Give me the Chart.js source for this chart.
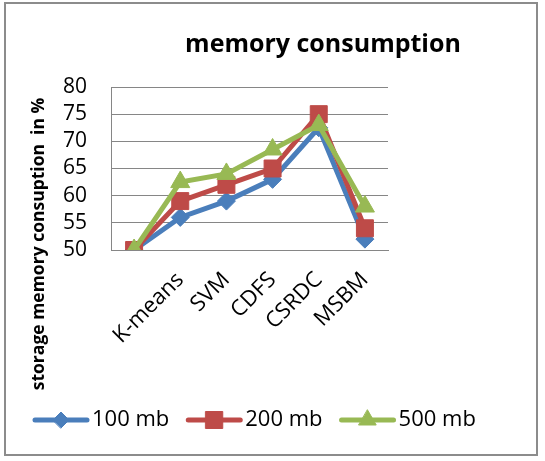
<!DOCTYPE html>
<html>
<head>
<meta charset="utf-8">
<script src="https://cdn.jsdelivr.net/npm/chart.js@4/dist/chart.umd.min.js"></script>
<style>
  html, body { margin: 0; padding: 0; background: #fff; }
  #wrap { position: relative; width: 545px; height: 461px; }
  #frame { position: absolute; left: 4px; top: 2px; width: 534px; height: 454px; border: 2px solid #8c8c8c; box-sizing: border-box; pointer-events: none; }
  canvas { position: absolute; left: 0; top: 0; }
</style>
</head>
<body>
<div id="wrap">
  <canvas id="chart" width="545" height="461"></canvas>
  <div id="frame"></div>
</div>
<script>
// data
const categories = ['', 'K-means', 'SVM', 'CDFS', 'CSRDC', 'MSBM'];
const mb100 = [50, 56, 59, 63, 72.5, 52];
const mb200 = [50, 59, 62, 65, 75, 54];
const mb500 = [50, 62.5, 64, 68.5, 73, 58];
const seriesNames = ['100 mb', '200 mb', '500 mb'];
const yTicks = [50, 55, 60, 65, 70, 75, 80];

const chartTitle = 'memory consumption';
const yTitle = 'storage memory consuption  in %';
const FONT = "'Open Sans', 'Liberation Sans', sans-serif";

const colors = ['#4a7ebb', '#be4b48', '#98b954'];
const markers = [
    { style: 'rectRot', radius: 9, legend: 8 },
    { style: 'rect', radius: 12, legend: 12 },
    { style: 'triangle', radius: 11, legend: 10 }
];

// title, y title and legend are drawn by hand (Excel-style placement)
const decorations = {
    id: 'decorations',
    afterDraw(chart) {
        const ctx = chart.ctx;
        ctx.save();
        ctx.fillStyle = '#000';

        ctx.font = 'bold 25px ' + FONT;
        ctx.textAlign = 'center';
        ctx.textBaseline = 'alphabetic';
        ctx.fillText(chartTitle, 323, 52);

        ctx.font = 'bold 17.5px ' + FONT;
        ctx.translate(39, 244);
        ctx.rotate(-Math.PI / 2);
        ctx.textBaseline = 'middle';
        ctx.fillText(yTitle, 0, 0);
        ctx.restore();

        // legend
        ctx.save();
        ctx.font = '22px ' + FONT;
        ctx.textBaseline = 'middle';
        ctx.textAlign = 'left';
        let x = 35;
        const y = 420;
        chart.data.datasets.forEach((ds, i) => {
            ctx.strokeStyle = ds.borderColor;
            ctx.fillStyle = ds.borderColor;
            ctx.lineWidth = 5;
            ctx.lineCap = 'round';
            ctx.beginPath();
            ctx.moveTo(x, y);
            ctx.lineTo(x + 52, y);
            ctx.stroke();
            ctx.lineWidth = 1;
            Chart.helpers.drawPoint(ctx, {
                pointStyle: markers[i].style,
                radius: markers[i].legend,
                rotation: 0,
                borderWidth: 1
            }, x + 26, y);
            ctx.fillStyle = '#000';
            ctx.fillText(ds.label, x + 57, y);
            x += 57 + ctx.measureText(ds.label).width + 19;
        });
        ctx.restore();
    }
};

const datasets = [mb100, mb200, mb500].map((vals, i) => ({
    label: seriesNames[i],
    data: vals,
    borderColor: colors[i],
    backgroundColor: colors[i],
    borderWidth: 5,
    tension: 0,
    pointStyle: markers[i].style,
    pointRadius: markers[i].radius,
    pointHoverRadius: markers[i].radius,
    pointBorderWidth: 1,
    order: 2 - i
}));

new Chart(document.getElementById('chart'), {
    type: 'line',
    data: { labels: categories, datasets: datasets },
    options: {
        responsive: false,
        animation: false,
        layout: { padding: { left: 10, top: 87, right: 157, bottom: 0 } },
        plugins: {
            legend: { display: false },
            title: { display: false },
            tooltip: { enabled: false }
        },
        scales: {
            x: {
                offset: true,
                grid: { display: false, drawTicks: false },
                border: { display: true, color: '#868686', width: 1 },
                ticks: {
                    color: '#000',
                    font: { family: FONT, size: 22 },
                    minRotation: 45,
                    maxRotation: 45,
                    autoSkip: false,
                    padding: 17
                },
                afterFit(scale) { scale.height = 461 - 250; }
            },
            y: {
                min: 50,
                max: 80,
                afterBuildTicks(scale) { scale.ticks = yTicks.map(v => ({ value: v })); },
                grid: { color: '#868686', lineWidth: 1, drawTicks: false },
                border: { display: true, color: '#868686', width: 1 },
                ticks: {
                    color: '#000',
                    font: { family: FONT, size: 21 },
                    autoSkip: false,
                    padding: 24
                },
                afterFit(scale) { scale.width = 111 - 10; }
            }
        }
    },
    plugins: [decorations]
});
</script>
</body>
</html>
